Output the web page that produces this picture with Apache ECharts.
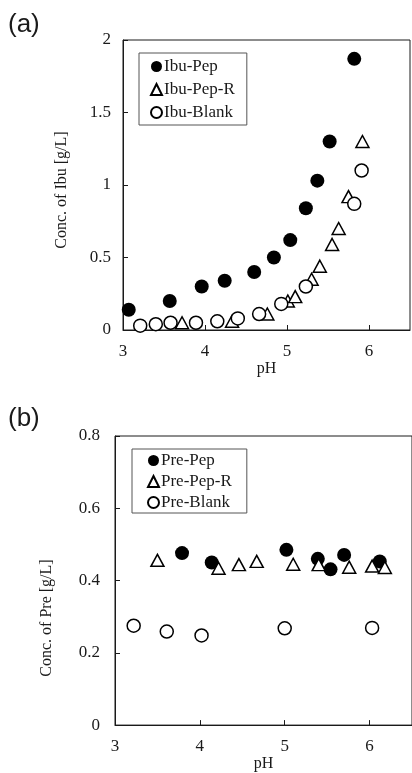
<!DOCTYPE html>
<html>
<head>
<meta charset="utf-8">
<script src="https://cdn.jsdelivr.net/npm/echarts@6/dist/echarts.min.js"></script>
<style>
  html, body { margin: 0; padding: 0; background: #fff; }
  #chart { width: 412px; height: 773px; }
</style>
</head>
<body>
<div id="chart"></div>
<script>
// panel (a) - ibuprofen
const ibuPepX = [3.07, 3.57, 3.96, 4.24, 4.60, 4.84, 5.04, 5.23, 5.37, 5.52, 5.82];
const ibuPepY = [0.14, 0.20, 0.30, 0.34, 0.40, 0.50, 0.62, 0.84, 1.03, 1.30, 1.87];
const ibuPepRX = [3.72, 4.33, 4.76, 5.01, 5.10, 5.30, 5.40, 5.55, 5.63, 5.75, 5.92];
const ibuPepRY = [0.05, 0.06, 0.11, 0.20, 0.23, 0.35, 0.44, 0.59, 0.70, 0.92, 1.30];
const ibuBlankX = [3.21, 3.40, 3.58, 3.89, 4.15, 4.40, 4.66, 4.93, 5.23, 5.82, 5.91];
const ibuBlankY = [0.03, 0.04, 0.05, 0.05, 0.06, 0.08, 0.11, 0.18, 0.30, 0.87, 1.10];

// panel (b) - prednisolone (?)
const prePepX = [3.79, 4.14, 5.02, 5.39, 5.54, 5.70, 6.12];
const prePepY = [0.476, 0.450, 0.485, 0.460, 0.431, 0.471, 0.453];
const prePepRX = [3.50, 4.22, 4.46, 4.67, 5.10, 5.40, 5.76, 6.03, 6.18];
const prePepRY = [0.456, 0.434, 0.444, 0.453, 0.445, 0.444, 0.437, 0.440, 0.436];
const preBlankX = [3.22, 3.61, 4.02, 5.00, 6.03];
const preBlankY = [0.275, 0.259, 0.248, 0.268, 0.269];

const serif = "Liberation Serif";
const ink = "#1a1a1a";

const chart = echarts.init(document.getElementById("chart"));

function pairs(xs, ys) {
  return xs.map((x, i) => [x, ys[i]]);
}

function xAxisOf(gridIndex, gap) {
  return {
    gridIndex: gridIndex,
    type: "value",
    min: 3,
    max: 6.5,
    interval: 1,
    name: "pH",
    nameLocation: "middle",
    nameGap: gap,
    nameTextStyle: { fontFamily: serif, fontSize: 16, color: ink },
    axisLine: { show: true, onZero: false, lineStyle: { color: ink, width: 1 } },
    axisTick: { show: true, inside: true, length: 5, lineStyle: { color: ink } },
    axisLabel: { fontFamily: serif, fontSize: 17, color: ink, margin: 13, showMaxLabel: false },
    splitLine: { show: false },
  };
}

function yAxisOf(gridIndex, max, interval, margin) {
  return {
    gridIndex: gridIndex,
    type: "value",
    min: 0,
    max: max,
    interval: interval,
    axisLine: { show: true, onZero: false, lineStyle: { color: ink, width: 1 } },
    axisTick: { show: true, inside: true, length: 5, lineStyle: { color: ink } },
    axisLabel: { fontFamily: serif, fontSize: 17, color: ink, margin: margin },
    splitLine: { show: false },
  };
}

// the three marker styles used in both panels
function filled(name, data, axis) {
  return {
    name: name, type: "scatter", xAxisIndex: axis, yAxisIndex: axis,
    symbol: "circle", symbolSize: 14, data: data,
    itemStyle: { color: "#000", borderColor: "#000", borderWidth: 0, opacity: 1 },
  };
}
function triangle(name, data, axis) {
  return {
    name: name, type: "scatter", xAxisIndex: axis, yAxisIndex: axis,
    symbol: "triangle", symbolSize: [13, 12], data: data,
    itemStyle: { color: "#fff", borderColor: "#000", borderWidth: 1.5, opacity: 1 },
  };
}
function hollow(name, data, axis) {
  return {
    name: name, type: "scatter", xAxisIndex: axis, yAxisIndex: axis,
    symbol: "circle", symbolSize: 13, data: data,
    itemStyle: { color: "#fff", borderColor: "#000", borderWidth: 1.5, opacity: 1 },
  };
}

function legendOf(names, left, top, gap, padding) {
  return {
    data: names,
    orient: "vertical",
    left: left,
    top: top,
    itemWidth: 11,
    itemHeight: 11,
    itemGap: gap,
    padding: padding,
    borderColor: "#555",
    borderWidth: 1,
    selectedMode: false,
    textStyle: { fontFamily: serif, fontSize: 17, color: ink, padding: [0, 0, 0, -3] },
  };
}

const option = {
  backgroundColor: "#fff",
  animation: false,
  grid: [
    { left: 123, top: 40, right: 2, height: 290, show: true, borderColor: ink, borderWidth: 1, backgroundColor: "transparent" },
    { left: 115, top: 436, right: -10, height: 296, show: true, borderColor: ink, borderWidth: 1, backgroundColor: "transparent" },
  ],
  xAxis: [xAxisOf(0, 30), xAxisOf(1, 27)],
  yAxis: [yAxisOf(0, 2, 0.5, 12), yAxisOf(1, 0.8, 0.2, 15)],
  legend: [
    legendOf(["Ibu-Pep", "Ibu-Pep-R", "Ibu-Blank"], 139, 53, 6, [5, 12, 4, 11]),
    legendOf(["Pre-Pep", "Pre-Pep-R", "Pre-Blank"], 132, 449, 4, [3, 15, 2, 15]),
  ],
  graphic: [
    { type: "text", left: 8, top: 12, style: { text: "(a)", font: "26px 'Liberation Sans'", fill: ink } },
    { type: "text", left: 8, top: 406, style: { text: "(b)", font: "26px 'Liberation Sans'", fill: ink } },
    {
      type: "text", x: 62, y: 190, rotation: Math.PI / 2,
      style: { text: "Conc. of Ibu [g/L]", font: "16px '" + serif + "'", fill: ink, align: "center", verticalAlign: "middle" },
    },
    {
      type: "text", x: 47, y: 618, rotation: Math.PI / 2,
      style: { text: "Conc. of Pre [g/L]", font: "16px '" + serif + "'", fill: ink, align: "center", verticalAlign: "middle" },
    },
  ],
  series: [
    filled("Ibu-Pep", pairs(ibuPepX, ibuPepY), 0),
    triangle("Ibu-Pep-R", pairs(ibuPepRX, ibuPepRY), 0),
    hollow("Ibu-Blank", pairs(ibuBlankX, ibuBlankY), 0),
    filled("Pre-Pep", pairs(prePepX, prePepY), 1),
    triangle("Pre-Pep-R", pairs(prePepRX, prePepRY), 1),
    hollow("Pre-Blank", pairs(preBlankX, preBlankY), 1),
  ],
};

chart.setOption(option);
</script>
</body>
</html>
